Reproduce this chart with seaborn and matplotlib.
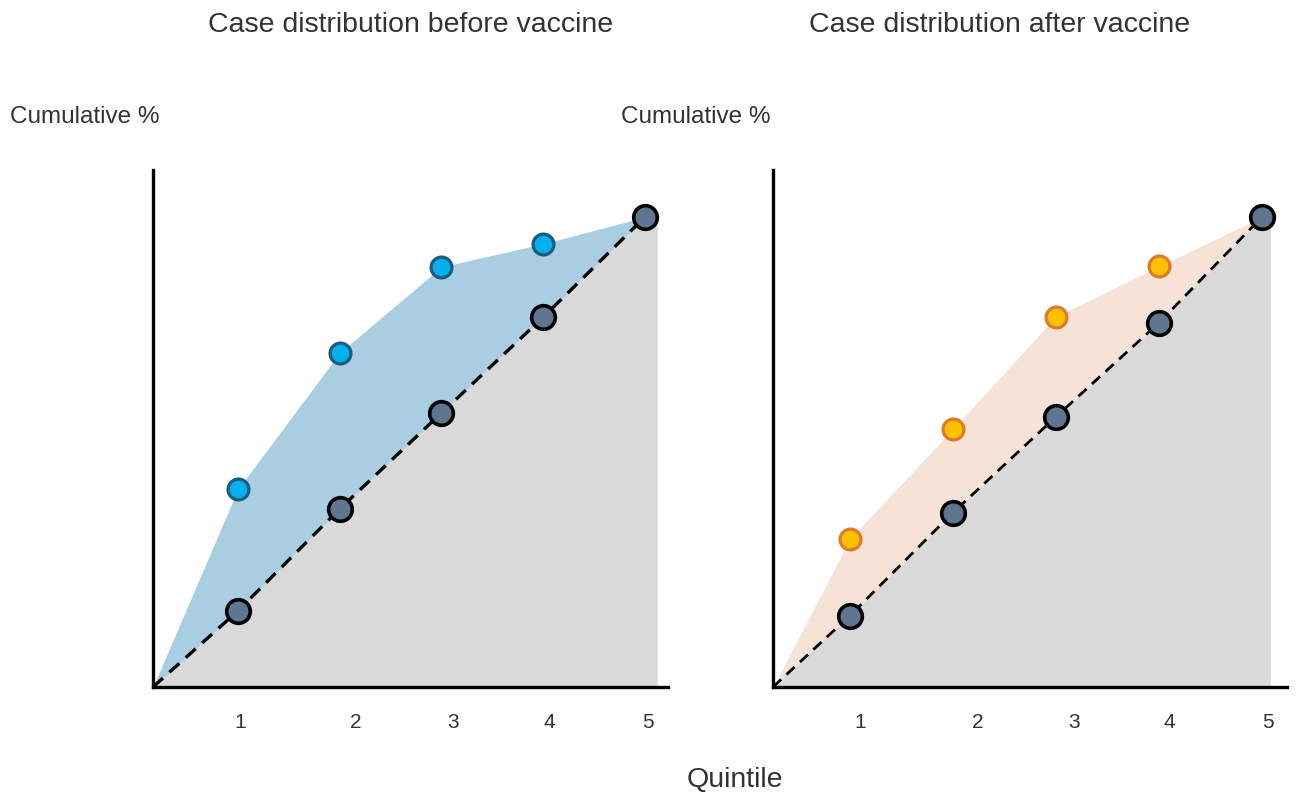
import numpy as np
import pandas as pd
import matplotlib.pyplot as plt
import seaborn as sns

# values (cumulative % per quintile)
quintiles = [1, 2, 3, 4, 5]
tick_labels = ["1", "2", "3", "4", "5"]
equal_before = [16.2, 37.9, 58.3, 78.7, 100]
cases_before = [42.1, 71.1, 89.4, 94.3, 100]
equal_after = [15.2, 37.1, 57.5, 77.5, 100]
cases_after = [31.5, 54.9, 78.8, 89.5, 100]

# label positions as drawn (slightly off the quintile marks in the source)
ticks_before = [1.02, 2.16, 3.11, 4.06, 5.03]
ticks_after = [1.10, 2.24, 3.18, 4.10, 5.06]

sns.set_style("white")
plt.rcParams["font.family"] = ["Liberation Sans", "DejaVu Sans"]
txt = "#333333"

fig = plt.figure(figsize=(12.96, 7.93), dpi=100)
ax1 = fig.add_axes([153 / 1296, 1 - 687 / 793, 515 / 1296, 517 / 793])
ax2 = fig.add_axes([773 / 1296, 1 - 687 / 793, 514 / 1296, 517 / 793])


def panel(ax, equal, cases, ticks, xlim, fill_col, face, edge, dash_lw, right_edge):
    x0 = xlim[0]
    df = pd.DataFrame({"q": quintiles, "equal": equal, "cases": cases})
    xs = [x0] + quintiles
    # grey area under the line of equality
    ax.fill_between(xs + [right_edge], [0] + equal + [100], 0,
                    color="#d9d9d9", lw=0, zorder=1)
    # coloured band between cases and equality
    ax.fill_between(xs, [0] + cases, [0] + equal, color=fill_col, lw=0, zorder=1)
    sns.lineplot(x=xs, y=[0] + equal, ax=ax, color="black", lw=dash_lw,
                 linestyle=(0, (4, 2.6)), zorder=2)
    sns.scatterplot(data=df.iloc[:4], x="q", y="cases", ax=ax, s=15 ** 2,
                    color=face, edgecolor=edge, linewidth=2.3, zorder=3)
    sns.scatterplot(data=df, x="q", y="equal", ax=ax, s=17 ** 2,
                    color="#5f7590", edgecolor="black", linewidth=2.6, zorder=4)
    ax.set_xlim(*xlim)
    ax.set_ylim(0, 110)
    ax.set_xticks(ticks)
    ax.set_xticklabels(tick_labels, fontsize=15, color=txt)
    ax.set_yticks([])
    ax.tick_params(axis="x", length=0, pad=19)
    ax.set_xlabel("")
    ax.set_ylabel("")
    sns.despine(ax=ax)
    for s in ["left", "bottom"]:
        ax.spines[s].set_linewidth(2.4)
        ax.spines[s].set_color("black")
        ax.spines[s].set_zorder(5)
    ax.patch.set_alpha(0)


panel(ax1, equal_before, cases_before, ticks_before, (0.165, 5.226),
      "#a9cde1", "#00b0f0", "#1f5b7a", 2.4, 5.12)
panel(ax2, equal_after, cases_after, ticks_after, (0.252, 5.243),
      "#f6e3d7", "#ffc000", "#dd7a2c", 2.0, 5.08)

fig.text(411 / 1296, 1 - 25 / 793, "Case distribution before vaccine",
         ha="center", va="center", fontsize=20.5, color=txt)
fig.text(1000 / 1296, 1 - 25 / 793, "Case distribution after vaccine",
         ha="center", va="center", fontsize=20.5, color=txt)
fig.text(10 / 1296, 1 - 117 / 793, "Cumulative %", ha="left", va="center",
         fontsize=17.5, color=txt)
fig.text(621 / 1296, 1 - 117 / 793, "Cumulative %", ha="left", va="center",
         fontsize=17.5, color=txt)
fig.text(735 / 1296, 1 - 780 / 793, "Quintile", ha="center", va="center",
         fontsize=20.5, color=txt)

fig.savefig("out.png", dpi=100)
